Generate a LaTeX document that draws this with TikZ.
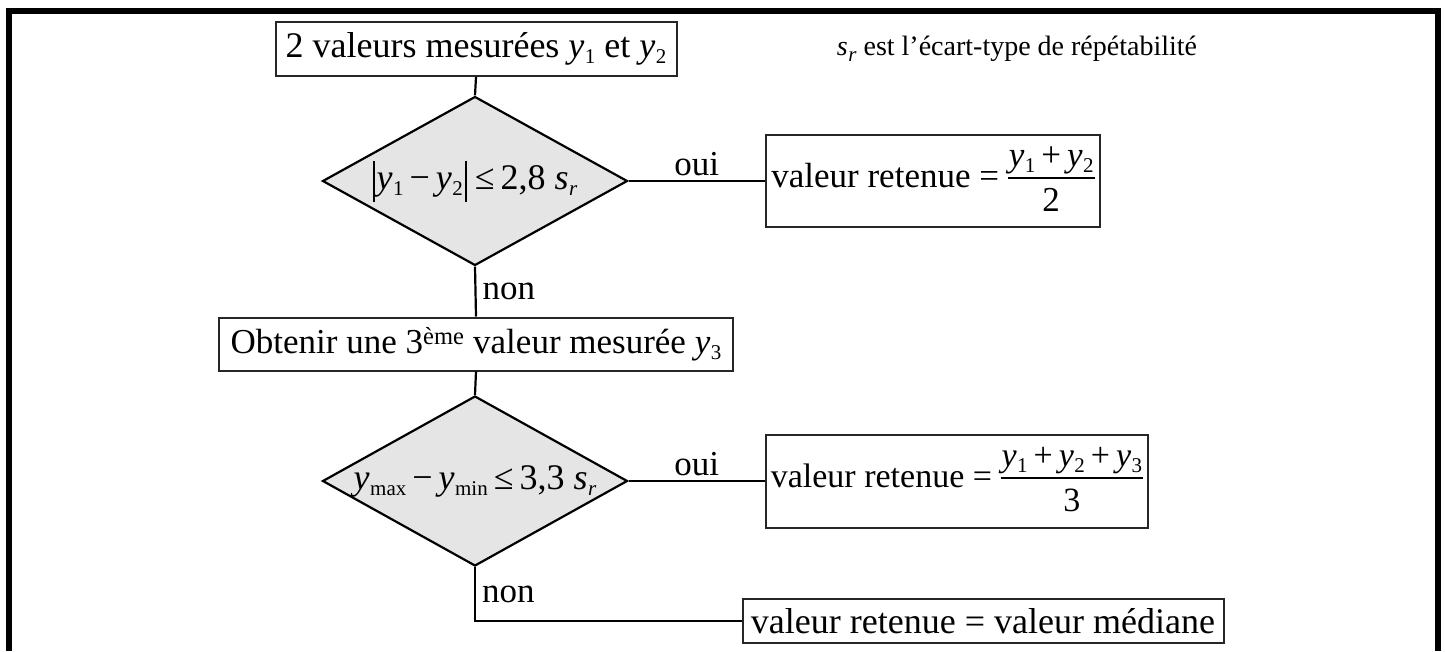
\documentclass[tikz,border=0pt]{standalone}
\usepackage{fontspec}
\setmainfont{Liberation Serif}
\usetikzlibrary{shapes.geometric}
\newcommand{\smallsub}[1]{{\fontsize{21}{22}\selectfont\raisebox{-6pt}{#1}}}
\newcommand{\vy}[1]{\textit{y}\kern0.5pt\smallsub{#1}}
\newcommand{\srr}{\textit{s}\kern0.5pt\smallsub{\textit{r}}}
\newcommand{\absbar}{\kern2pt\vrule width 2pt height 29pt depth 12pt\kern2pt}
\newcommand{\pl}{\kern6pt+\kern6pt}
\setlength{\arrayrulewidth}{2pt}
\newcommand{\frc}[2]{$\vcenter{\hbox{\begin{tabular}{@{\kern1pt}c@{\kern1pt}}#1\\[-2pt]\hline\rule{0pt}{33pt}#2\end{tabular}}}$}
\tikzset{
  box/.style={draw=black!85, line width=2pt, inner sep=0pt, font=\fontsize{35}{40}\selectfont},
  bigbox/.style={box, font=\fontsize{36}{40}\selectfont},
  decision/.style={diamond, draw=black, fill=black!10, line width=2.2pt, inner sep=0pt, aspect=1.8},
  conn/.style={draw=black, line width=2.2pt},
  lbl/.style={font=\fontsize{35}{40}\selectfont, inner sep=3pt},
  frame/.style={line width=6pt}
}
\begin{document}
\begin{tikzpicture}[x=1pt,y=-1pt]
\useasboundingbox (0,0) rectangle (1445,651);
\draw[frame] (9,651) -- (9,11) -- (1438,11) -- (1438,651);

\node[bigbox, minimum width=401pt, minimum height=54pt] (b1) at (476,49) {2 valeurs mesurées \vy{1} et \vy{2}};
\node[font=\fontsize{28}{30}\selectfont, inner sep=0pt] (note) at (1017,49) {\srr{} est l’écart-type de répétabilité};

\node[decision, minimum width=305pt, minimum height=169pt] (d1) at (475,181) {};
\node[font=\fontsize{36}{40}\selectfont, inner sep=0pt] (t1) at (474,181) {\absbar\vy{1}\,−\,\vy{2}\absbar\,≤\,2,8 \srr};

\node[box, minimum width=334pt, minimum height=92pt] (r1) at (933,181) {valeur retenue = \frc{\vy{1}\pl\vy{2}}{2}};

\node[box, minimum width=514pt, minimum height=53pt] (b3) at (476,344) {Obtenir une 3\textsuperscript{ème} valeur mesurée \vy{3}};

\node[decision, minimum width=305pt, minimum height=170pt] (d2) at (475,481) {};
\node[font=\fontsize{36}{40}\selectfont, inner sep=0pt] (t2) at (475,481) {\vy{max}\,−\,\vy{min}\,≤\,3,3 \srr};

\node[box, font=\fontsize{34}{40}\selectfont, minimum width=382pt, minimum height=93pt] (r2) at (957,481) {valeur retenue = \frc{\vy{1}\pl\vy{2}\pl\vy{3}}{3}};

\node[bigbox, minimum width=481pt, minimum height=44pt] (r3) at (983,621) {valeur retenue = valeur médiane};

\draw[conn] (b1.south) -- (d1.north);
\draw[conn] (d1.east) -- (r1.west) node[lbl, midway, above=1pt] {oui};
\draw[conn] (d1.south) -- (b3.north) node[lbl, midway, right=3pt] {non};
\draw[conn] (b3.south) -- (d2.north);
\draw[conn] (d2.east) -- (r2.west) node[lbl, midway, above=1pt] {oui};
\draw[conn] (d2.south) |- (r3.west) node[lbl, pos=0.25, right=3pt] {non};
\end{tikzpicture}
\end{document}
